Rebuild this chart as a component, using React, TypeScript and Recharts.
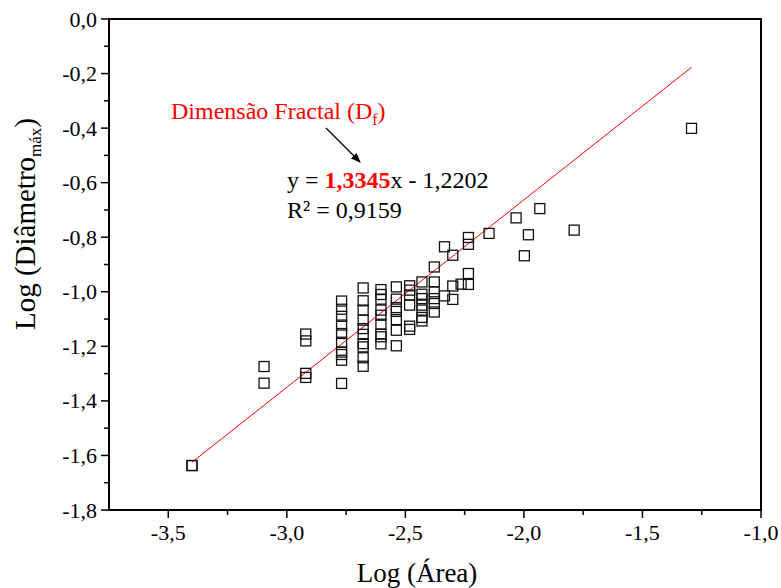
import React from "react";
import {
  ScatterChart, Scatter, XAxis, YAxis, ReferenceLine, ReferenceArea,
} from "recharts";

// Log (Área) values
const logArea = [
  -3.4, -3.4,
  -3.096, -3.096,
  -2.92, -2.92, -2.92, -2.92,
  -2.769, -2.769, -2.769, -2.769, -2.769, -2.769, -2.769, -2.769, -2.769, -2.769,
  -2.678, -2.678, -2.678, -2.678, -2.678, -2.678, -2.678, -2.678, -2.678, -2.678,
  -2.603, -2.603, -2.603, -2.603, -2.603, -2.603, -2.603, -2.603, -2.603,
  -2.538, -2.538, -2.538, -2.538, -2.538, -2.538, -2.538,
  -2.482, -2.482, -2.482, -2.482, -2.482, -2.482,
  -2.43, -2.43, -2.43, -2.43, -2.43, -2.43, -2.43,
  -2.378, -2.378, -2.378, -2.378, -2.378, -2.378,
  -2.335, -2.335,
  -2.3, -2.3, -2.3,
  -2.265,
  -2.234, -2.234, -2.234, -2.234,
  -2.147, -2.033, -1.998, -1.981, -1.933, -1.788, -1.293,
];

// Log (Diâmetro máx) values, same order
const logDiam = [
  -1.637, -1.637,
  -1.274, -1.335,
  -1.155, -1.18, -1.299, -1.314,
  -1.034, -1.064, -1.09, -1.122, -1.153, -1.185, -1.221, -1.23, -1.251, -1.336,
  -0.986, -1.033, -1.067, -1.104, -1.135, -1.156, -1.19, -1.202, -1.242, -1.273,
  -0.992, -1.01, -1.027, -1.067, -1.086, -1.119, -1.155, -1.165, -1.191,
  -0.982, -1.027, -1.058, -1.072, -1.102, -1.141, -1.198,
  -0.978, -0.994, -1.012, -1.049, -1.126, -1.138,
  -0.964, -1.009, -1.025, -1.049, -1.067, -1.094, -1.107,
  -0.909, -0.964, -1.0, -1.025, -1.043, -1.074,
  -0.835, -1.015,
  -0.866, -0.979, -1.028,
  -0.972,
  -0.801, -0.826, -0.933, -0.973,
  -0.786, -0.729, -0.868, -0.791, -0.695, -0.774, -0.401,
];

// fitted line end points
const fitX = [-3.4, -1.293];
const fitY = [-1.625, -0.177];

const xTicksMajor = [-3.5, -3.0, -2.5, -2.0, -1.5, -1.0];
const xTicksMinor = [-3.25, -2.75, -2.25, -1.75, -1.25];
const yTicksMajor = [0, -0.2, -0.4, -0.6, -0.8, -1.0, -1.2, -1.4, -1.6, -1.8];
const yTicksMinor = [-0.1, -0.3, -0.5, -0.7, -0.9, -1.1, -1.3, -1.5, -1.7];

const points = logArea.map((x, i) => ({ x, y: logDiam[i] }));
const font = "'Liberation Serif', 'Times New Roman', serif";
const fmt = (v: number) => v.toFixed(1).replace(".", ",");
const isMajor = (list: number[], v: number) => list.some((t) => Math.abs(t - v) < 1e-6);

const XTick = ({ x, y, payload }: any) => {
  const major = isMajor(xTicksMajor, payload.value);
  return (
    <g>
      <line x1={x} x2={x} y1={y} y2={y + (major ? 8 : 5)} stroke="#000" strokeWidth={1.5} />
      {major && (
        <text x={x} y={y + 30} textAnchor="middle" fontSize={22} fontFamily={font} fill="#000">
          {fmt(payload.value)}
        </text>
      )}
    </g>
  );
};

const YTick = ({ x, y, payload }: any) => {
  const major = isMajor(yTicksMajor, payload.value);
  return (
    <g>
      <line x1={x} x2={x - (major ? 8 : 5)} y1={y} y2={y} stroke="#000" strokeWidth={1.5} />
      {major && (
        <text x={x - 12} y={y + 7.5} textAnchor="end" fontSize={22} fontFamily={font} fill="#000">
          {fmt(payload.value)}
        </text>
      )}
    </g>
  );
};

const Square = ({ cx, cy }: any) => (
  <rect x={cx - 5} y={cy - 5} width={10} height={10} fill="none" stroke="#111" strokeWidth={1.3} />
);

export default function App() {
  return (
    <div style={{ position: "relative", width: 781, height: 588 }}>
      <style>{"body{margin:0}"}</style>
      <ScatterChart width={781} height={588} margin={{ top: 19, right: 20, bottom: 0, left: 0 }}>
        <XAxis
          type="number"
          dataKey="x"
          domain={[-3.75, -1.0]}
          ticks={[...xTicksMajor, ...xTicksMinor].sort((a, b) => a - b)}
          interval={0}
          allowDataOverflow
          height={78}
          tickSize={0}
          tickMargin={0}
          tickLine={false}
          tick={XTick}
          axisLine={{ stroke: "#000", strokeWidth: 1.5 }}
        />
        <YAxis
          type="number"
          dataKey="y"
          domain={[-1.8, 0]}
          ticks={[...yTicksMajor, ...yTicksMinor].sort((a, b) => a - b)}
          interval={0}
          allowDataOverflow
          width={109}
          tickSize={0}
          tickMargin={0}
          tickLine={false}
          tick={YTick}
          axisLine={{ stroke: "#000", strokeWidth: 1.5 }}
        />
        <ReferenceArea
          x1={-3.75} x2={-1.0} y1={-1.8} y2={0}
          fill="none" stroke="#000" strokeWidth={2} fillOpacity={0}
        />
        <ReferenceLine
          segment={[{ x: fitX[0], y: fitY[0] }, { x: fitX[1], y: fitY[1] }]}
          stroke="#ff0000"
          strokeWidth={1}
        />
        <Scatter data={points} shape={Square} isAnimationActive={false} />
      </ScatterChart>
      <svg
        width={781}
        height={588}
        style={{ position: "absolute", left: 0, top: 0, pointerEvents: "none" }}
        fontFamily={font}
      >
        <defs>
          <marker id="ah" markerWidth="10" markerHeight="8" refX="9" refY="4" orient="auto" markerUnits="userSpaceOnUse">
            <path d="M0,0 L10,4 L0,8 z" fill="#000" />
          </marker>
        </defs>
        <text x={171} y={119} fontSize={24} fill="#ff0000">
          Dimensão Fractal (D<tspan dy={6} fontSize={16}>f</tspan><tspan dy={-6}>)</tspan>
        </text>
        <line x1={326} y1={128} x2={360} y2={162} stroke="#000" strokeWidth={1.2} markerEnd="url(#ah)" />
        <text x={287} y={188} fontSize={24} fill="#000">
          y = <tspan fill="#ff0000" fontWeight="bold">1,3345</tspan>x - 1,2202
        </text>
        <text x={287} y={218} fontSize={24} fill="#000">R² = 0,9159</text>
        <text x={417} y={582} fontSize={27} textAnchor="middle" fill="#000">Log (Área)</text>
        <text transform="translate(35,224) rotate(-90)" fontSize={29} textAnchor="middle" fill="#000">
          Log (Diâmetro<tspan dy={6} fontSize={17}>máx</tspan><tspan dy={-6}>)</tspan>
        </text>
      </svg>
    </div>
  );
}
